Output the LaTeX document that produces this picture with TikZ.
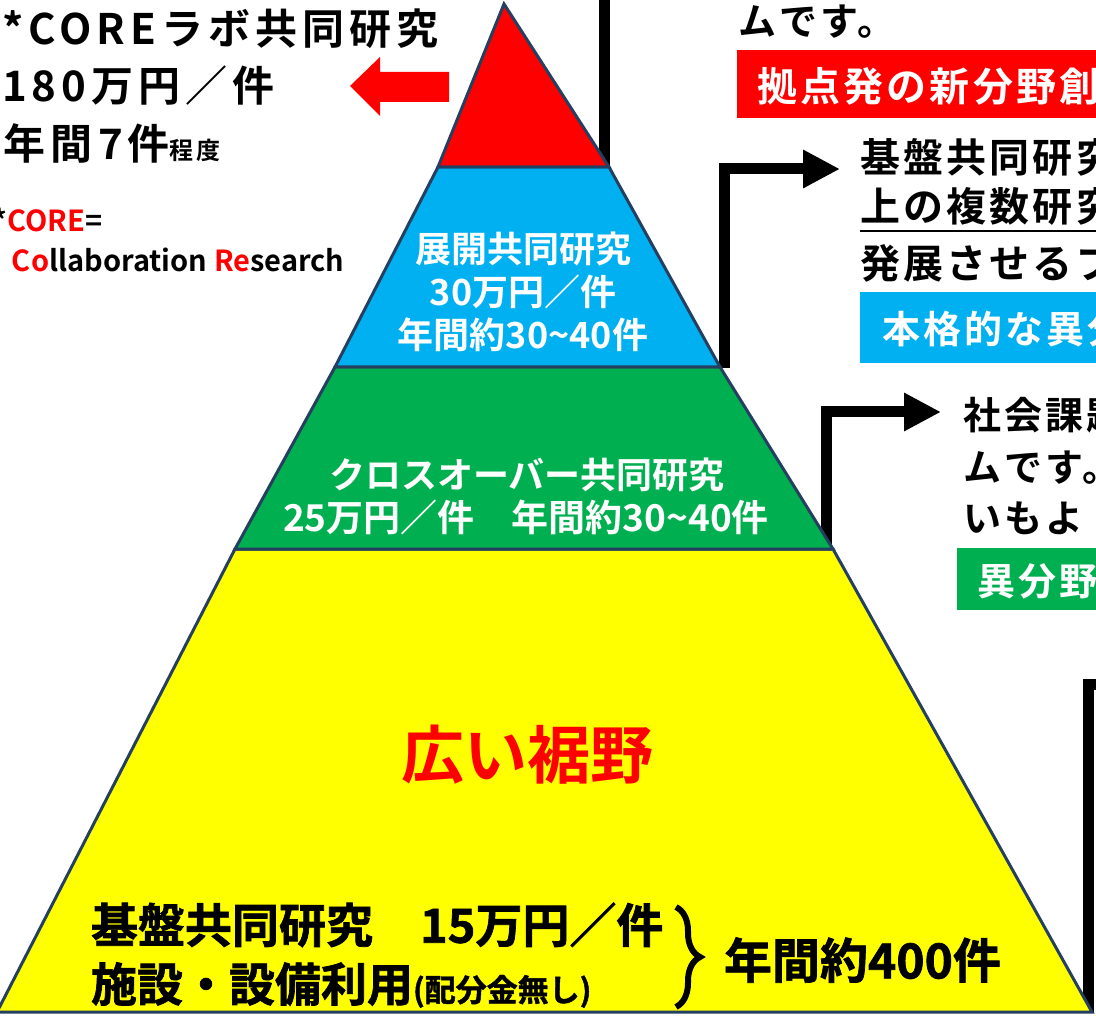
\documentclass[tikz,border=0pt]{standalone}
\usepackage{fontspec}
\usetikzlibrary{arrows.meta,decorations.pathreplacing}
\setmainfont{Noto Sans CJK JP}
\newfontfamily\jpb{Noto Sans CJK JP}[UprightFont={* Bold}]
\newfontfamily\jpbsp{Noto Sans CJK JP}[UprightFont={* Bold},LetterSpace=8]
\newfontfamily\jpbwide{Noto Sans CJK JP}[UprightFont={* Bold},LetterSpace=12]
\newfontfamily\jpheavy{Noto Sans CJK JP}[UprightFont={* Bold},FakeBold=1.5]
\newcommand{\fsz}[1]{\fontsize{#1}{#1}\selectfont}
\definecolor{cred}{HTML}{FF0000}
\definecolor{cblue}{HTML}{00B0F0}
\definecolor{cgreen}{HTML}{00B050}
\definecolor{cyellow}{HTML}{FFFF00}
\definecolor{cedge}{HTML}{243F60}
\tikzset{
  layer/.style={draw=cedge, line width=3pt, line join=miter},
  conn/.style={draw=black, line width=11pt, line join=miter},
  headtip/.style={-{Triangle[length=37pt,width=36pt]}},
  txt/.style={inner sep=0pt, outer sep=0pt},
  boxfill/.style={inner sep=0pt, outer sep=0pt, anchor=north west},
}
\begin{document}
\begin{tikzpicture}[x=1pt,y=-1pt]
\useasboundingbox (0,0) rectangle (1096,1016);
\clip (0,0) rectangle (1096,1016);
\fill[white] (0,0) rectangle (1096,1016);

% connectors (behind the pyramid)
\coordinate (c1a) at (604,168);
\coordinate (c1b) at (604,-10);
\draw[conn] (c1a) -- (c1b);
\coordinate (c2a) at (724,368);
\coordinate (c2b) at (840,169);
\draw[conn, headtip] (c2a) |- (c2b);
\coordinate (c3a) at (826,550);
\coordinate (c3b) at (941,412);
\draw[conn, headtip] (c3a) |- (c3b);
\coordinate (c4a) at (1088,1013);
\coordinate (c4b) at (1110,684);
\draw[conn] (c4a) |- (c4b);

% pyramid
\coordinate (apex) at (504,4);
\coordinate (rL) at (438,167);
\coordinate (rR) at (609,167);
\coordinate (bL) at (335,367);
\coordinate (bR) at (720,367);
\coordinate (gL) at (235,549);
\coordinate (gR) at (833,549);
\coordinate (yL) at (-3,1012);
\coordinate (yR) at (1092,1012);
\draw[layer, fill=cyellow] (gL) -- (gR) -- (yR) -- (yL) -- cycle;
\draw[layer, fill=cgreen] (bL) -- (bR) -- (gR) -- (gL) -- cycle;
\draw[layer, fill=cblue] (rL) -- (rR) -- (bR) -- (bL) -- cycle;
\draw[layer, fill=cred] (apex) -- (rR) -- (rL) -- cycle;

% red arrow to the left
\fill[cred] (350,86) -- (380,57) -- (380,72) -- (449,72) -- (449,102) -- (380,102) -- (380,116) -- cycle;

% left texts
\node[txt, anchor=base west, font=\jpbwide\fsz{42}] (t1) at (2,45) {*COREラボ共同研究};
\node[txt, anchor=base west, font=\jpbwide\fsz{42}] (t2) at (2,102) {180万円／件};
\node[txt, anchor=base west, font=\jpbwide\fsz{42}] (t3) at (4,160) {年間7件{\fsz{24}程度}};
\node[txt, anchor=base west, font=\jpb\fsz{29}] (t4) at (-7,232) {*\textcolor{cred}{CORE}=};
\node[txt, anchor=base west, font=\jpb\fsz{29}] (t5) at (12,272) {\textcolor{cred}{Co}llaboration \textcolor{cred}{Re}search};

% blue layer text
\node[txt, white, font=\jpb\fsz{36}] (b1) at (523,249) {展開共同研究};
\node[txt, white, font=\jpb\fsz{36}] (b2) at (523,292) {30万円／件};
\node[txt, white, font=\jpb\fsz{36}] (b3) at (523,335) {年間約30\string~40件};

% green layer text
\node[txt, white, font=\jpb\fsz{36}] (g1) at (527,475) {クロスオーバー共同研究};
\node[txt, white, font=\jpb\fsz{37}] (g2) at (526,517) {25万円／件　年間約30\string~40件};

% yellow layer text
\node[txt, cred, font=\jpb\fsz{63}] (y0) at (527,755) {広い裾野};
\node[txt, anchor=west, font=\jpheavy\fsz{47}] (y1) at (91,925) {基盤共同研究　15万円／件};
\node[txt, anchor=west, font=\jpheavy\fsz{46}] (y2) at (91,985) {施設・設備利用{\fsz{31}(配分金無し)}};
\node[txt, anchor=west, font=\jpheavy\fsz{48}] (y3) at (724,960) {年間約400件};
\coordinate (brT) at (676,907);
\coordinate (brB) at (676,1007);
\draw[line width=6pt, decorate, decoration={brace, amplitude=24pt, aspect=0.5}] (brT) -- (brB);

% right texts (top)
\node[txt, anchor=west, font=\jpbsp\fsz{38}] (r0) at (738,22) {ムです。};
\node[boxfill, fill=cred, minimum width=400pt, minimum height=68pt] (rbox) at (737,50) {};
\node[txt, anchor=west, white, font=\jpbsp\fsz{40}] (rt) at (757,86) {拠点発の新分野創};

% right texts (blue)
\node[txt, anchor=west, font=\jpbsp\fsz{40}] (k1) at (860,157) {基盤共同研究};
\node[txt, anchor=west, font=\jpbsp\fsz{40}] (k2) at (860,206) {上の複数研究};
\draw[line width=2.5pt] (860,231) -- (1100,231);
\node[txt, anchor=west, font=\jpbsp\fsz{40}] (k3) at (860,263) {発展させるプ};
\node[boxfill, fill=cblue, minimum width=300pt, minimum height=71pt] (kbox) at (860,292) {};
\node[txt, anchor=west, white, font=\jpbsp\fsz{38}] (kt) at (882,329) {本格的な異分};

% right texts (green)
\node[txt, anchor=west, font=\jpbsp\fsz{38}] (s1) at (963,415) {社会課題};
\node[txt, anchor=west, font=\jpbsp\fsz{38}] (s2) at (963,468) {ムです。};
\node[txt, anchor=west, font=\jpbsp\fsz{38}] (s3) at (963,518) {いもよ};
\node[boxfill, fill=cgreen, minimum width=200pt, minimum height=62pt] (sbox) at (957,548) {};
\node[txt, anchor=west, white, font=\jpbsp\fsz{38}] (st) at (977,581) {異分野};
\end{tikzpicture}
\end{document}
